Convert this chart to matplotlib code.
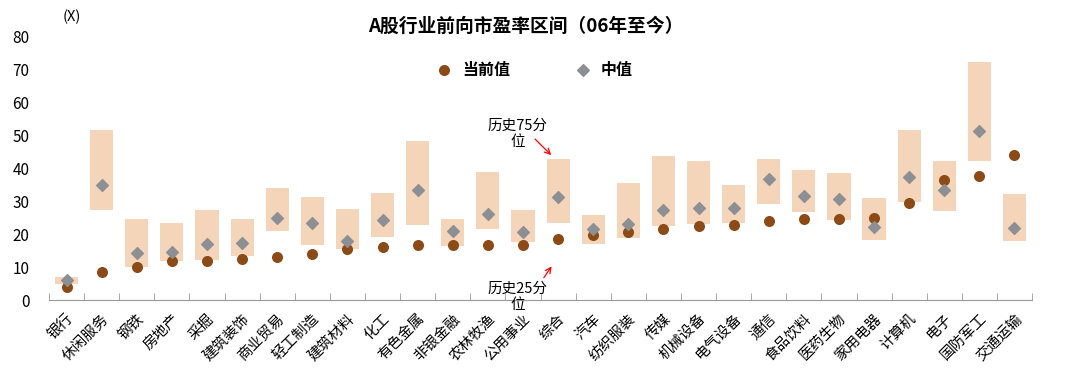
import numpy as np
import matplotlib
matplotlib.use("Agg")
import matplotlib.pyplot as plt

plt.rcParams['font.family'] = ['Noto Sans CJK SC', 'DejaVu Sans']

industries = ["银行", "休闲服务", "钢铁", "房地产", "采掘", "建筑装饰", "商业贸易",
              "轻工制造", "建筑材料", "化工", "有色金属", "非银金融", "农林牧渔",
              "公用事业", "综合", "汽车", "纺织服装", "传媒", "机械设备", "电气设备",
              "通信", "食品饮料", "医药生物", "家用电器", "计算机", "电子",
              "国防军工", "交通运输"]
p75 = [7.0, 51.7, 24.5, 23.5, 27.5, 24.6, 33.9, 31.4, 27.8, 32.6, 48.1, 24.6, 38.9,
       27.4, 42.7, 25.9, 35.4, 43.7, 42.1, 34.9, 42.8, 39.6, 38.5, 31.0, 51.7, 42.3,
       72.1, 32.1]
p25 = [5.0, 27.5, 10.0, 11.9, 12.2, 13.4, 21.1, 16.9, 15.6, 19.1, 22.7, 16.6, 21.5,
       17.6, 23.3, 17.2, 18.8, 22.6, 23.0, 23.5, 29.2, 26.8, 24.3, 18.4, 29.7, 27.1,
       42.1, 18.0]
median = [6.2, 34.8, 14.4, 14.6, 17.0, 17.3, 24.9, 23.4, 18.1, 24.4, 33.5, 20.9, 26.3,
          20.6, 31.3, 21.7, 23.2, 27.3, 28.0, 27.9, 36.6, 31.7, 30.7, 22.2, 37.3, 33.5,
          51.3, 21.8]
current = [4.0, 8.7, 10.0, 11.9, 12.0, 12.4, 13.2, 14.0, 15.5, 16.2, 16.9, 16.9, 16.9,
           16.9, 18.6, 19.9, 20.7, 21.7, 22.6, 22.8, 24.0, 24.6, 24.7, 25.0, 29.5, 36.5,
           37.6, 44.0]

x = np.arange(len(industries))
lo = np.array(p25)
hi = np.array(p75)

fig = plt.figure(figsize=(10.8, 3.77), dpi=100)
ax = fig.add_axes([0.0454, 0.203, 0.9102, 0.7015])

ax.bar(x, hi - lo, bottom=lo, width=0.66, color="#F4D5BA", zorder=1)
ax.scatter(x, current, s=48, color="#8B4A16", zorder=3, label="当前值")
ax.scatter(x, median, s=36, marker="D", color="#8C8F94", zorder=4, label="中值")

ax.set_xlim(-0.5, len(industries) - 0.5)
ax.set_ylim(0, 80)
ax.set_yticks(range(0, 81, 10))
ax.tick_params(axis="y", length=0, labelsize=11, pad=14)
ax.set_xticks(x)
ax.set_xticklabels(industries, rotation=45, ha="right", rotation_mode="anchor", fontsize=10.5)
ax.tick_params(axis="x", length=0, pad=8)
ax.set_xticks(np.arange(len(industries) + 1) - 0.5, minor=True)
ax.tick_params(axis="x", which="minor", direction="in", length=5, color="#999999")

for s in ["top", "right", "left"]:
    ax.spines[s].set_visible(False)
ax.spines["bottom"].set_color("#999999")

fig.text(0.487, 0.93, "A股行业前向市盈率区间（06年至今）", fontsize=13.5,
         fontweight="bold", ha="center", va="center")
fig.text(0.058, 0.955, "(X)", fontsize=10.5, ha="left", va="center")

ax.legend(loc="center", bbox_to_anchor=(0.49, 0.873), ncol=2, frameon=False,
          handletextpad=0.1, columnspacing=3.6, markerscale=1.0,
          prop={"weight": "bold", "size": 11.5})

# annotations for the percentile bars
ax.text(12.85, 50.5, "历史75分\n位", ha="center", va="center", fontsize=10.5)
ax.annotate("", xy=(13.86, 43.4), xytext=(13.29, 49.4),
            arrowprops=dict(arrowstyle="->", color="red", lw=0.9))
ax.text(12.85, 1.0, "历史25分\n位", ha="center", va="center", fontsize=10.5)
ax.annotate("", xy=(13.86, 11.0), xytext=(13.55, 6.2),
            arrowprops=dict(arrowstyle="->", color="red", lw=0.9))

fig.savefig("out.png", dpi=100)
